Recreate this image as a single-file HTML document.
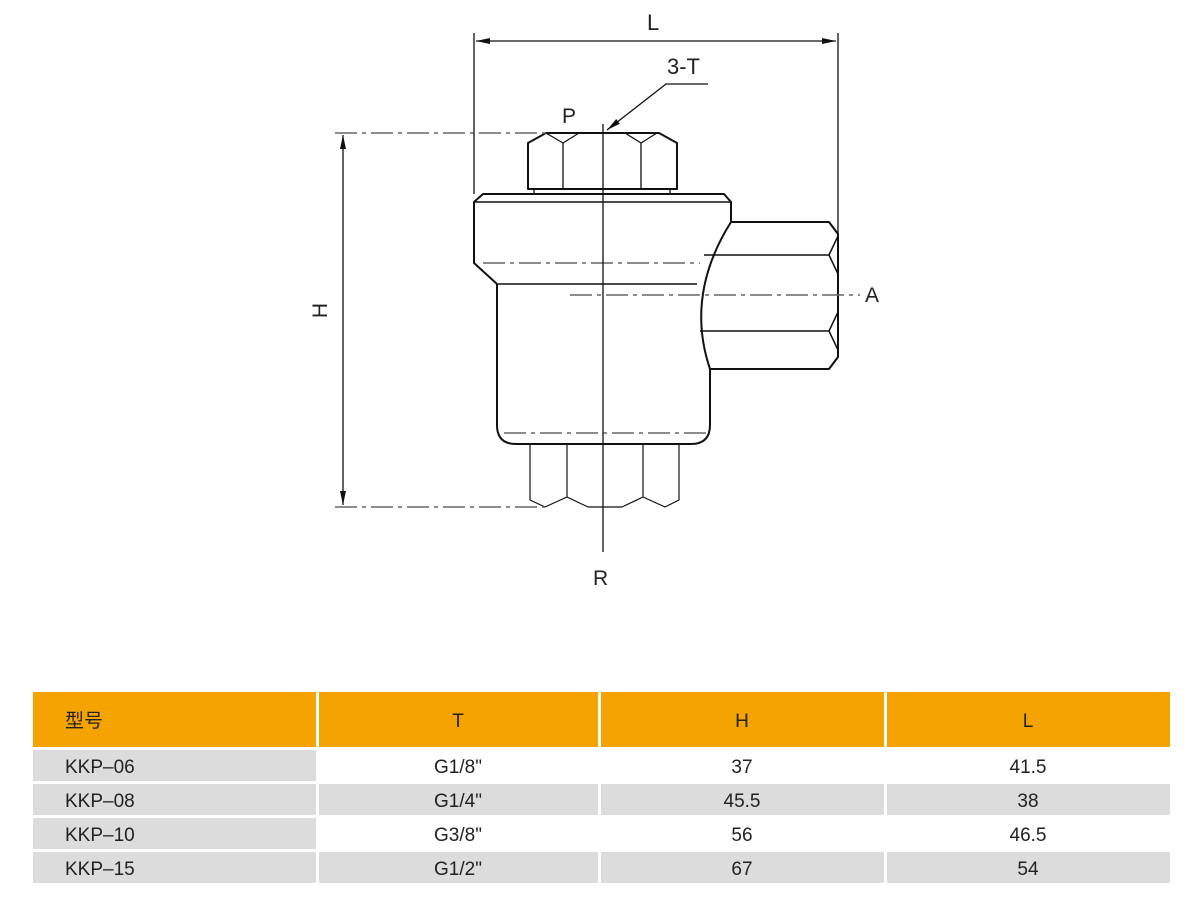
<!DOCTYPE html>
<html><head><meta charset="utf-8"><style>
body{margin:0;background:#fff;width:1200px;height:897px;overflow:hidden;font-family:"Liberation Sans","Noto Sans CJK SC",sans-serif}
svg{position:absolute;left:0;top:0}
.t{position:absolute;font-size:19px;color:#222;line-height:1}
</style></head><body>
<svg width="1200" height="897" viewBox="0 0 1200 897">
<defs><marker id="a" markerWidth="14" markerHeight="8" refX="14" refY="4" orient="auto" markerUnits="userSpaceOnUse"><path d="M0,1 L14,4 L0,7 Z" fill="#111"/></marker></defs>
<g fill="none" stroke="#111" stroke-width="2" stroke-linejoin="round">
<!-- top nut -->
<path d="M546,133 L659,133 L677,143 L677,189 L528,189 L528,143 Z"/>
<path d="M563,143 V189 M641,143 V189" stroke-width="1.3"/>
<path d="M546,133 L563,143 L579,133 M625,133 L641,143 L657,133" stroke-width="1.3"/>
<path d="M534,189 V194 M670,189 V194" stroke-width="1.3"/>
<!-- body -->
<path d="M483,194 L724,194 L731,202 L731,222 L829,222 L838,234 L838,357 L829,369 L710,369 L710,425 Q710,444 691,444 L516,444 Q497,444 497,425 L497,284 L474,263 L474,202 Z"/>
<path d="M474,202 H731 M498,284 H697" stroke-width="1.5"/>
<path d="M731,222 Q685,295 710,369" />
<path d="M704,255 H829 L838,236 M829,255 L838,274 M700,331 H829 L838,312 M829,331 L838,350" stroke-width="1.5"/>
<!-- bottom hex -->
<path d="M530,444 V500 L545,507 L567,497 L588,507 L622,507 L643,497 L665,507 L679,500 V444 M567,444 V497 M643,444 V497 M588,507 H622" stroke-width="1.2"/>
</g>
<g stroke="#666" stroke-width="1.5" stroke-dasharray="22,5,4,5" fill="none">
<path d="M335,133 H546 M483,263 H700 M570,295 H860 M504,433 H707 M335,507 H545"/>
</g>
<g stroke="#111" stroke-width="1.3" fill="none">
<path d="M603,124 V552"/>
<path d="M474,33 V194 M838,33 V234"/>
<path d="M656,41 H476" marker-end="url(#a)"/>
<path d="M656,41 H836" marker-end="url(#a)"/>
<path d="M343,320 V135" marker-end="url(#a)"/>
<path d="M343,320 V505" marker-end="url(#a)"/>
<path d="M708,84 H666 L607,130" marker-end="url(#a)"/>
</g>
</svg>
<div class="t" style="left:647px;top:12px;font-size:22px">L</div>
<div class="t" style="left:667px;top:56px;font-size:22px">3-T</div>
<div class="t" style="left:562px;top:106px;font-size:21px">P</div>
<div class="t" style="left:865px;top:285px;font-size:21px">A</div>
<div class="t" style="left:593px;top:568px;font-size:21px">R</div>
<div class="t" style="left:313px;top:300px;font-size:21px;transform:rotate(-90deg)">H</div>
<svg width="1200" height="897" style="font-family:'Liberation Sans','Noto Sans CJK SC',sans-serif;font-size:19px" fill="#222">
<g>
<rect x="33" y="692" width="283" height="55" fill="#f5a300"/>
<rect x="319" y="692" width="279" height="55" fill="#f5a300"/>
<rect x="601" y="692" width="283" height="55" fill="#f5a300"/>
<rect x="887" y="692" width="283" height="55" fill="#f5a300"/>
<rect x="33" y="750" width="283" height="31" fill="#dcdcdc"/>
<rect x="33" y="784" width="283" height="31" fill="#dcdcdc"/>
<rect x="319" y="784" width="279" height="31" fill="#dcdcdc"/>
<rect x="601" y="784" width="283" height="31" fill="#dcdcdc"/>
<rect x="887" y="784" width="283" height="31" fill="#dcdcdc"/>
<rect x="33" y="818" width="283" height="31" fill="#dcdcdc"/>
<rect x="33" y="852" width="283" height="31" fill="#dcdcdc"/>
<rect x="319" y="852" width="279" height="31" fill="#dcdcdc"/>
<rect x="601" y="852" width="283" height="31" fill="#dcdcdc"/>
<rect x="887" y="852" width="283" height="31" fill="#dcdcdc"/>
</g>
<text x="65" y="727">型号</text>
<text x="458" y="727" text-anchor="middle">T</text>
<text x="742" y="727" text-anchor="middle">H</text>
<text x="1028" y="727" text-anchor="middle">L</text>
<text x="65" y="773">KKP–06</text><text x="458" y="773" text-anchor="middle">G1/8"</text><text x="742" y="773" text-anchor="middle">37</text><text x="1028" y="773" text-anchor="middle">41.5</text>
<text x="65" y="807">KKP–08</text><text x="458" y="807" text-anchor="middle">G1/4"</text><text x="742" y="807" text-anchor="middle">45.5</text><text x="1028" y="807" text-anchor="middle">38</text>
<text x="65" y="841">KKP–10</text><text x="458" y="841" text-anchor="middle">G3/8"</text><text x="742" y="841" text-anchor="middle">56</text><text x="1028" y="841" text-anchor="middle">46.5</text>
<text x="65" y="875">KKP–15</text><text x="458" y="875" text-anchor="middle">G1/2"</text><text x="742" y="875" text-anchor="middle">67</text><text x="1028" y="875" text-anchor="middle">54</text>
</svg>
</body></html>
